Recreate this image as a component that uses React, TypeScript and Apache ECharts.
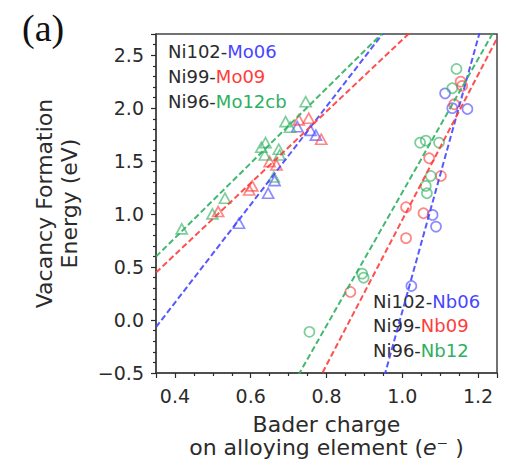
import React, { useEffect, useRef } from "react";
import * as echarts from "echarts";

// Axis ranges
const X_RANGE = [0.35, 1.25];
const Y_RANGE = [-0.5, 2.7];

// Mo substitutions (triangles): [Bader charge, vacancy formation energy]
const mo06 = [[0.569, 0.914], [0.646, 1.197], [0.663, 1.316], [0.723, 1.825], [0.758, 1.79], [0.772, 1.745]];
const mo09 = [[0.514, 1.024], [0.596, 1.228], [0.604, 1.266], [0.65, 1.495], [0.668, 1.464], [0.727, 1.889], [0.753, 1.905], [0.786, 1.707]];
const mo12cb = [[0.418, 0.86], [0.499, 1.002], [0.532, 1.15], [0.628, 1.631], [0.637, 1.558], [0.639, 1.675], [0.661, 1.35], [0.674, 1.612], [0.676, 1.558], [0.692, 1.873], [0.704, 1.82], [0.745, 2.061]];

// Nb substitutions (circles)
const nb06 = [[1.024, 0.321], [1.08, 0.992], [1.089, 0.882], [1.113, 2.14], [1.132, 2.0], [1.172, 1.992]];
const nb09 = [[0.863, 0.265], [1.01, 0.773], [1.01, 1.065], [1.056, 1.008], [1.071, 1.527], [1.102, 1.36], [1.137, 2.037], [1.154, 2.25], [1.158, 2.21]];
const nb12 = [[0.755, -0.111], [0.894, 0.438], [0.898, 0.4], [1.047, 1.675], [1.062, 1.694], [1.097, 1.675], [1.075, 1.36], [1.062, 1.266], [1.065, 1.197], [1.132, 2.188], [1.143, 2.37]];

// Linear fits: [slope, intercept]
const fitMo06 = [4.63, -1.688];
const fitMo09 = [3.38, -0.735];
const fitMo12cb = [3.53, -0.637];
const fitNb06 = [12.9, -12.82];
const fitNb09 = [6.85, -5.905];
const fitNb12 = [6.29, -5.085];

// Legend labels: [host, solute]
const moLabels = [["Ni102-", "Mo06"], ["Ni99-", "Mo09"], ["Ni96-", "Mo12cb"]];
const nbLabels = [["Ni102-", "Nb06"], ["Ni99-", "Nb09"], ["Ni96-", "Nb12"]];

const BLUE = "#4646ff";
const RED = "#ff3c3c";
const GREEN = "#2fb060";
const COLORS = [BLUE, RED, GREEN];
const INK = "#2b2b2b";
const FONT = "DejaVu Sans";

const fitLine = (fit: number[]) =>
  X_RANGE.map((x) => [x, fit[0] * x + fit[1]]);

const scatter = (data: number[][], color: string, symbol: string) => ({
  type: "scatter",
  data,
  symbol,
  symbolSize: symbol === "triangle" ? [11, 10] : 10,
  itemStyle: { color: "rgba(255,255,255,0)", borderColor: color, borderWidth: 1.7, opacity: 0.62 },
  silent: true,
  z: 2,
});

const line = (fit: number[], color: string) => ({
  type: "line",
  data: fitLine(fit),
  showSymbol: false,
  symbol: "none",
  clip: true,
  silent: true,
  lineStyle: { color, width: 2, type: [6, 3], opacity: 0.9 },
  z: 3,
});

const legendTexts = (labels: string[][], x: number, y0: number, step: number) =>
  labels.map((l, i) => ({
    type: "text",
    x,
    y: y0 + i * step,
    style: {
      text: `${l[0]}{c|${l[1]}}`,
      fill: INK,
      fontSize: 18,
      fontFamily: FONT,
      verticalAlign: "middle",
      align: "left",
      rich: { c: { fill: COLORS[i], fontSize: 18, fontFamily: FONT } },
    },
  }));

const fmt = (v: number) => (v < 0 ? "\u2212" + Math.abs(v).toFixed(1) : v.toFixed(1));

export default function App() {
  const ref = useRef<HTMLDivElement>(null);

  useEffect(() => {
    if (!ref.current) return;
    const chart = echarts.init(ref.current, undefined, { renderer: "svg" });
    const tickStyle = { color: INK, width: 1.2 };
    chart.setOption({
      animation: false,
      backgroundColor: "#ffffff",
      grid: { left: 156, top: 34, right: 9, bottom: 92, show: true, borderColor: "#444", borderWidth: 1.5 },
      xAxis: {
        type: "value",
        min: X_RANGE[0],
        max: X_RANGE[1],
        splitNumber: 5,
        splitLine: { show: false },
        axisLine: { show: true, onZero: false, lineStyle: { color: "#444", width: 1.5 } },
        axisTick: { show: true, length: 5, lineStyle: tickStyle },
        minorTick: { show: true, splitNumber: 4, length: 3, lineStyle: tickStyle },
        axisLabel: { fontSize: 19, color: INK, fontFamily: FONT, margin: 13, showMinLabel: false, showMaxLabel: false, formatter: fmt },
        name: "Bader charge\non alloying element ({i|e}\u207B )",
        nameLocation: "middle",
        nameGap: 40,
        nameTextStyle: {
          fontSize: 22,
          lineHeight: 23,
          color: INK,
          fontFamily: FONT,
          rich: { i: { fontStyle: "italic", fontSize: 22, lineHeight: 23, color: INK, fontFamily: FONT } },
        },
      },
      yAxis: {
        type: "value",
        min: Y_RANGE[0],
        max: Y_RANGE[1],
        interval: 0.5,
        splitLine: { show: false },
        axisLine: { show: true, onZero: false, lineStyle: { color: "#444", width: 1.5 } },
        axisTick: { show: true, length: 5, lineStyle: tickStyle },
        minorTick: { show: true, splitNumber: 5, length: 3, lineStyle: tickStyle },
        axisLabel: { fontSize: 19, color: INK, fontFamily: FONT, margin: 12, showMaxLabel: false, formatter: fmt },
        name: "Vacancy Formation\nEnergy (eV)",
        nameLocation: "middle",
        nameGap: 74,
        nameTextStyle: { fontSize: 22, lineHeight: 25, color: INK, fontFamily: FONT },
      },
      graphic: [
        {
          type: "text",
          x: 22,
          y: 28,
          style: { text: "(a)", fontSize: 38, fontFamily: "Liberation Serif", fill: "#111", verticalAlign: "middle" },
        },
        ...legendTexts(moLabels, 168, 51, 25),
        ...legendTexts(nbLabels, 373, 301, 24.5),
      ],
      series: [
        scatter(mo06, BLUE, "triangle"),
        scatter(mo09, RED, "triangle"),
        scatter(mo12cb, GREEN, "triangle"),
        scatter(nb06, BLUE, "circle"),
        scatter(nb09, RED, "circle"),
        scatter(nb12, GREEN, "circle"),
        line(fitMo06, BLUE),
        line(fitMo09, RED),
        line(fitMo12cb, GREEN),
        line(fitNb06, BLUE),
        line(fitNb09, RED),
        line(fitNb12, GREEN),
      ],
    });
    return () => chart.dispose();
  }, []);

  return (
    <div
      ref={ref}
      style={{ position: "fixed", left: 0, top: 0, width: 506, height: 465, background: "#fff" }}
    />
  );
}
